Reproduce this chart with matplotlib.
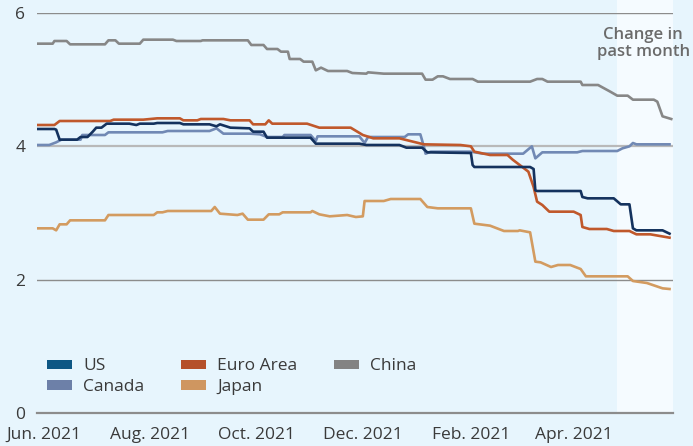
import matplotlib
matplotlib.use("Agg")
import matplotlib.pyplot as plt
import matplotlib.dates as mdates
from matplotlib.patches import Patch
import numpy as np
import pandas as pd

plt.rcParams['font.family'] = ['Open Sans', 'DejaVu Sans']

START = pd.Timestamp("2021-05-28")
END = pd.Timestamp("2022-05-28")
SHADE_START = pd.Timestamp("2022-04-26")

# days since START, values (%)
us_days = [0, 10, 11, 13, 23, 25, 29, 32, 34, 37, 40, 53, 57, 59, 67, 69, 82, 84, 99, 103, 105, 111,
           122, 124, 130, 132, 157, 160, 185, 189, 208, 212, 221, 224, 249, 250, 251, 283, 285, 286,
           287, 312, 313, 316, 331, 335, 340, 342, 344, 359, 363]
us_vals = [4.26, 4.26, 4.25, 4.10, 4.10, 4.14, 4.14, 4.22, 4.28, 4.28, 4.34, 4.34, 4.32, 4.34, 4.34,
           4.35, 4.35, 4.33, 4.33, 4.30, 4.33, 4.28, 4.27, 4.22, 4.22, 4.13, 4.13, 4.04, 4.04, 4.02,
           4.02, 3.98, 3.98, 3.91, 3.90, 3.72, 3.69, 3.69, 3.66, 3.34, 3.33, 3.33, 3.24, 3.22, 3.22,
           3.13, 3.13, 2.77, 2.74, 2.74, 2.69]

canada_days = [0, 7, 11, 14, 25, 26, 39, 41, 72, 75, 99, 103, 107, 122, 128, 132, 141, 142, 157, 160,
               161, 185, 188, 190, 211, 213, 220, 222, 223, 226, 249, 256, 279, 284, 286, 290, 310,
               313, 333, 336, 340, 342, 344, 363]
canada_vals = [4.02, 4.02, 4.06, 4.10, 4.10, 4.17, 4.17, 4.21, 4.21, 4.23, 4.23, 4.27, 4.19, 4.19,
               4.18, 4.14, 4.14, 4.17, 4.17, 4.08, 4.15, 4.15, 4.05, 4.14, 4.14, 4.18, 4.18, 4.00,
               3.89, 3.92, 3.92, 3.89, 3.89, 4.00, 3.82, 3.91, 3.91, 3.93, 3.93, 3.97, 4.00, 4.05,
               4.03, 4.03]

euro_days = [0, 10, 13, 42, 44, 61, 69, 82, 84, 92, 94, 107, 111, 122, 124, 131, 133, 135, 155, 162,
             180, 187, 193, 208, 222, 243, 249, 251, 260, 270, 273, 277, 282, 285, 287, 290, 294, 308,
             312, 313, 317, 327, 331, 340, 344, 352, 363]
euro_vals = [4.32, 4.32, 4.38, 4.38, 4.40, 4.40, 4.42, 4.42, 4.39, 4.39, 4.41, 4.41, 4.39, 4.39, 4.33,
             4.33, 4.39, 4.34, 4.34, 4.28, 4.28, 4.17, 4.12, 4.12, 4.03, 4.02, 4.00, 3.92, 3.87, 3.87,
             3.80, 3.72, 3.62, 3.39, 3.17, 3.12, 3.02, 3.02, 2.97, 2.79, 2.76, 2.76, 2.73, 2.73, 2.68,
             2.68, 2.63]

japan_days = [0, 9, 11, 13, 17, 19, 39, 41, 67, 69, 72, 75, 100, 102, 105, 115, 118, 121, 130, 133,
              139, 141, 157, 158, 162, 168, 178, 183, 187, 188, 199, 203, 220, 224, 230, 249, 251,
              260, 268, 276, 277, 283, 286, 289, 295, 299, 306, 312, 315, 339, 342, 350, 359, 363]
japan_vals = [2.77, 2.77, 2.74, 2.83, 2.83, 2.89, 2.89, 2.97, 2.97, 3.01, 3.01, 3.03, 3.03, 3.09,
              2.99, 2.97, 2.99, 2.90, 2.90, 2.98, 2.98, 3.01, 3.01, 3.03, 2.98, 2.95, 2.97, 2.94,
              2.95, 3.18, 3.18, 3.21, 3.21, 3.09, 3.07, 3.07, 2.84, 2.81, 2.73, 2.73, 2.74, 2.71,
              2.27, 2.26, 2.19, 2.22, 2.22, 2.16, 2.05, 2.05, 1.98, 1.95, 1.87, 1.86]

china_days = [0, 9, 10, 17, 19, 39, 41, 45, 47, 59, 61, 78, 80, 94, 95, 121, 123, 130, 132, 138, 140,
              144, 145, 151, 153, 158, 160, 163, 167, 178, 181, 189, 190, 199, 221, 223, 227, 230,
              233, 237, 250, 253, 283, 287, 290, 293, 312, 313, 322, 329, 333, 339, 342, 354, 356,
              359, 364]
china_vals = [5.54, 5.54, 5.58, 5.58, 5.53, 5.53, 5.59, 5.59, 5.54, 5.54, 5.60, 5.60, 5.58, 5.58,
              5.59, 5.59, 5.52, 5.52, 5.46, 5.46, 5.42, 5.42, 5.31, 5.31, 5.27, 5.27, 5.14, 5.18,
              5.13, 5.13, 5.10, 5.09, 5.11, 5.09, 5.09, 5.00, 5.00, 5.05, 5.05, 5.01, 5.01, 4.97,
              4.97, 5.01, 5.01, 4.97, 4.97, 4.92, 4.92, 4.82, 4.76, 4.76, 4.70, 4.70, 4.67, 4.45,
              4.41]

series_names = ["US", "Canada", "Euro Area", "Japan", "China"]
tick_dates = ["2021-06-01", "2021-08-01", "2021-10-01", "2021-12-01", "2022-02-01", "2022-04-01"]
tick_labels = ["Jun. 2021", "Aug. 2021", "Oct. 2021", "Dec. 2021", "Feb. 2021", "Apr. 2021"]
y_ticks = [0, 2, 4, 6]

line_colors = {"US": "#14325e", "Canada": "#7189b4", "Euro Area": "#c0582b",
               "Japan": "#d39b60", "China": "#878787"}
legend_colors = {"US": "#0e5784", "Canada": "#6d80a8", "Euro Area": "#b5502a",
                 "Japan": "#cf9660", "China": "#838383"}

BG = "#e7f5fd"
fig = plt.figure(figsize=(6.93, 4.46), dpi=100, facecolor=BG)
ax = fig.add_axes([37/693, 1-413/446, 636/693, 400/446])
ax.set_facecolor(BG)

def to_dates(days):
    return START + pd.to_timedelta(np.array(days), unit="D")

# shaded "past month"
ax.axvspan(SHADE_START, END, ymin=0, ymax=1.035, color="#f5fbff", lw=0, clip_on=False, zorder=0)

ax.axhline(6, color="#8c8c8c", lw=1.0, zorder=1)
ax.axhline(2, color="#8c8c8c", lw=1.0, zorder=1)
ax.axhline(4, color="#b9b9b9", lw=1.6, zorder=1)

data = {"US": (us_days, us_vals), "Canada": (canada_days, canada_vals),
        "Euro Area": (euro_days, euro_vals), "Japan": (japan_days, japan_vals),
        "China": (china_days, china_vals)}
order = ["China", "Japan", "Canada", "Euro Area", "US"]
for name in order:
    d, v = data[name]
    ax.plot(to_dates(d), v, color=line_colors[name], lw=1.9, zorder=3, solid_joinstyle="round")

ax.set_xlim(START, END)
ax.set_ylim(0, 6)
for s in ["top", "right", "left"]:
    ax.spines[s].set_visible(False)
ax.spines["bottom"].set_color("#8c8c8c")
ax.spines["bottom"].set_linewidth(1.6)

ax.set_xticks(pd.to_datetime(tick_dates))
ax.set_xticklabels(tick_labels)
ax.set_yticks(y_ticks)
ax.set_yticklabels([str(t) for t in y_ticks])
ax.tick_params(axis="both", length=0, labelsize=12.5, colors="#3a3a3a")
ax.tick_params(axis="x", pad=10)
ax.tick_params(axis="y", pad=8.5)

handles = [Patch(facecolor=legend_colors[n], edgecolor="none", label=n) for n in series_names]
leg = ax.legend(handles=handles, ncol=3, loc="lower left", bbox_to_anchor=(-0.004, 0.014),
                frameon=False, fontsize=12.5, handlelength=1.45, handleheight=0.45,
                handletextpad=0.65, columnspacing=2.1, labelspacing=0.28, borderaxespad=0.3)
for t in leg.get_texts():
    t.set_color("#3a3a3a")

ax.text(0.953, 0.965, "Change in\npast month", transform=ax.transAxes, ha="center", va="top",
        fontsize=12, fontweight="semibold", color="#6b6b6b", linespacing=1.1, clip_on=False,
        zorder=5)

fig.savefig("out.png", dpi=100, facecolor=BG)
